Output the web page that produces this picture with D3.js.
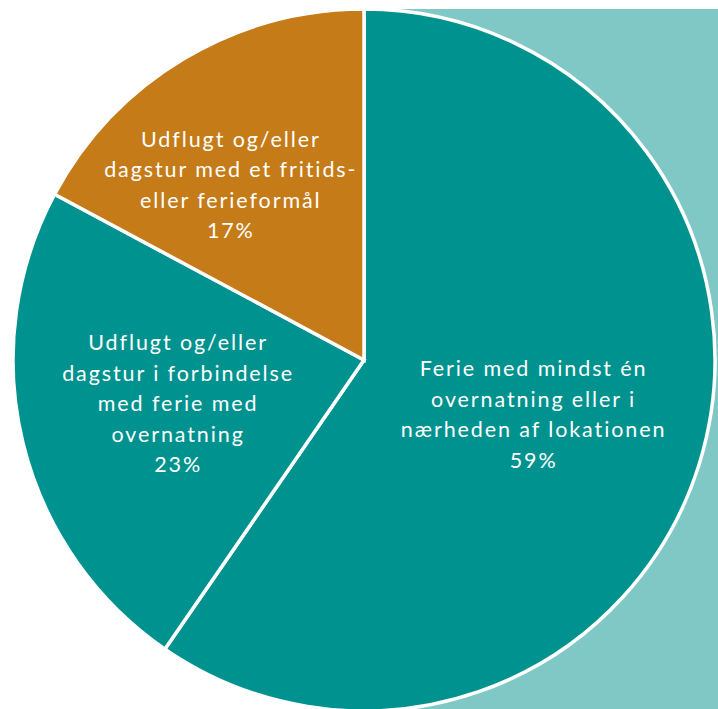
<!DOCTYPE html>
<html>
<head>
<meta charset="utf-8">
<script src="https://cdn.jsdelivr.net/npm/d3@7"></script>
<style>
  html, body { margin: 0; padding: 0; background: #ffffff; }
  svg { display: block; }
  .lbl { font-family: "Lato", "Noto Sans", sans-serif; font-size: 21.5px; font-weight: 400; fill: #ffffff; letter-spacing: 1.9px; }
</style>
</head>
<body>
<svg id="chart" width="718" height="709"></svg>
<script>
// Purpose of trips (share of answers)
const categories = [
  "Ferie med mindst én overnatning eller i nærheden af lokationen",
  "Udflugt og/eller dagstur i forbindelse med ferie med overnatning",
  "Udflugt og/eller dagstur med et fritids- eller ferieformål"
];
const labelLines = [
  ["Ferie med mindst én", "overnatning eller i", "nærheden af lokationen"],
  ["Udflugt og/eller", "dagstur i forbindelse", "med ferie med", "overnatning"],
  ["Udflugt og/eller", "dagstur med et fritids-", "eller ferieformål"]
];
const shares = [59, 23, 17];
const colors = ["#00928e", "#00928e", "#c57b18"];

const W = 718, H = 709;
const cx = 364, cy = 360, R = 351;
const svg = d3.select("#chart");

// pale backdrop panel on the right half
svg.append("rect")
  .attr("x", cx).attr("y", 9)
  .attr("width", W - cx).attr("height", H - 9)
  .attr("fill", "#80c8c6");

const pie = d3.pie().sort(null).value(d => d)(shares);
const arc = d3.arc().innerRadius(0).outerRadius(R);

const g = svg.append("g").attr("transform", `translate(${cx},${cy})`);

g.selectAll("path.slice")
  .data(pie)
  .join("path")
  .attr("class", "slice")
  .attr("d", arc)
  .attr("fill", (d, i) => colors[i])
  .attr("stroke", "#ffffff")
  .attr("stroke-width", 3.5)
  .attr("stroke-linejoin", "miter");

// label anchor radius per slice, plus a small shift
const labelRadius = [0.5, 0.545, 0.6];
const labelShift = [[2, 3], [0, -1], [-25, 6]];
const lineH = 30.5;

pie.forEach((d, i) => {
  const r = R * labelRadius[i];
  const [lx, ly] = d3.arc().innerRadius(r).outerRadius(r).centroid(d);
  const lines = labelLines[i].concat([shares[i] + "%"]);
  const t = g.append("text")
    .attr("class", "lbl")
    .attr("text-anchor", "middle")
    .attr("transform", `translate(${lx + labelShift[i][0]},${ly + labelShift[i][1]})`);
  lines.forEach((s, k) => {
    t.append("tspan")
      .attr("x", 0)
      .attr("y", (k - (lines.length - 1) / 2) * lineH + 7)
      .text(s);
  });
});
</script>
</body>
</html>
